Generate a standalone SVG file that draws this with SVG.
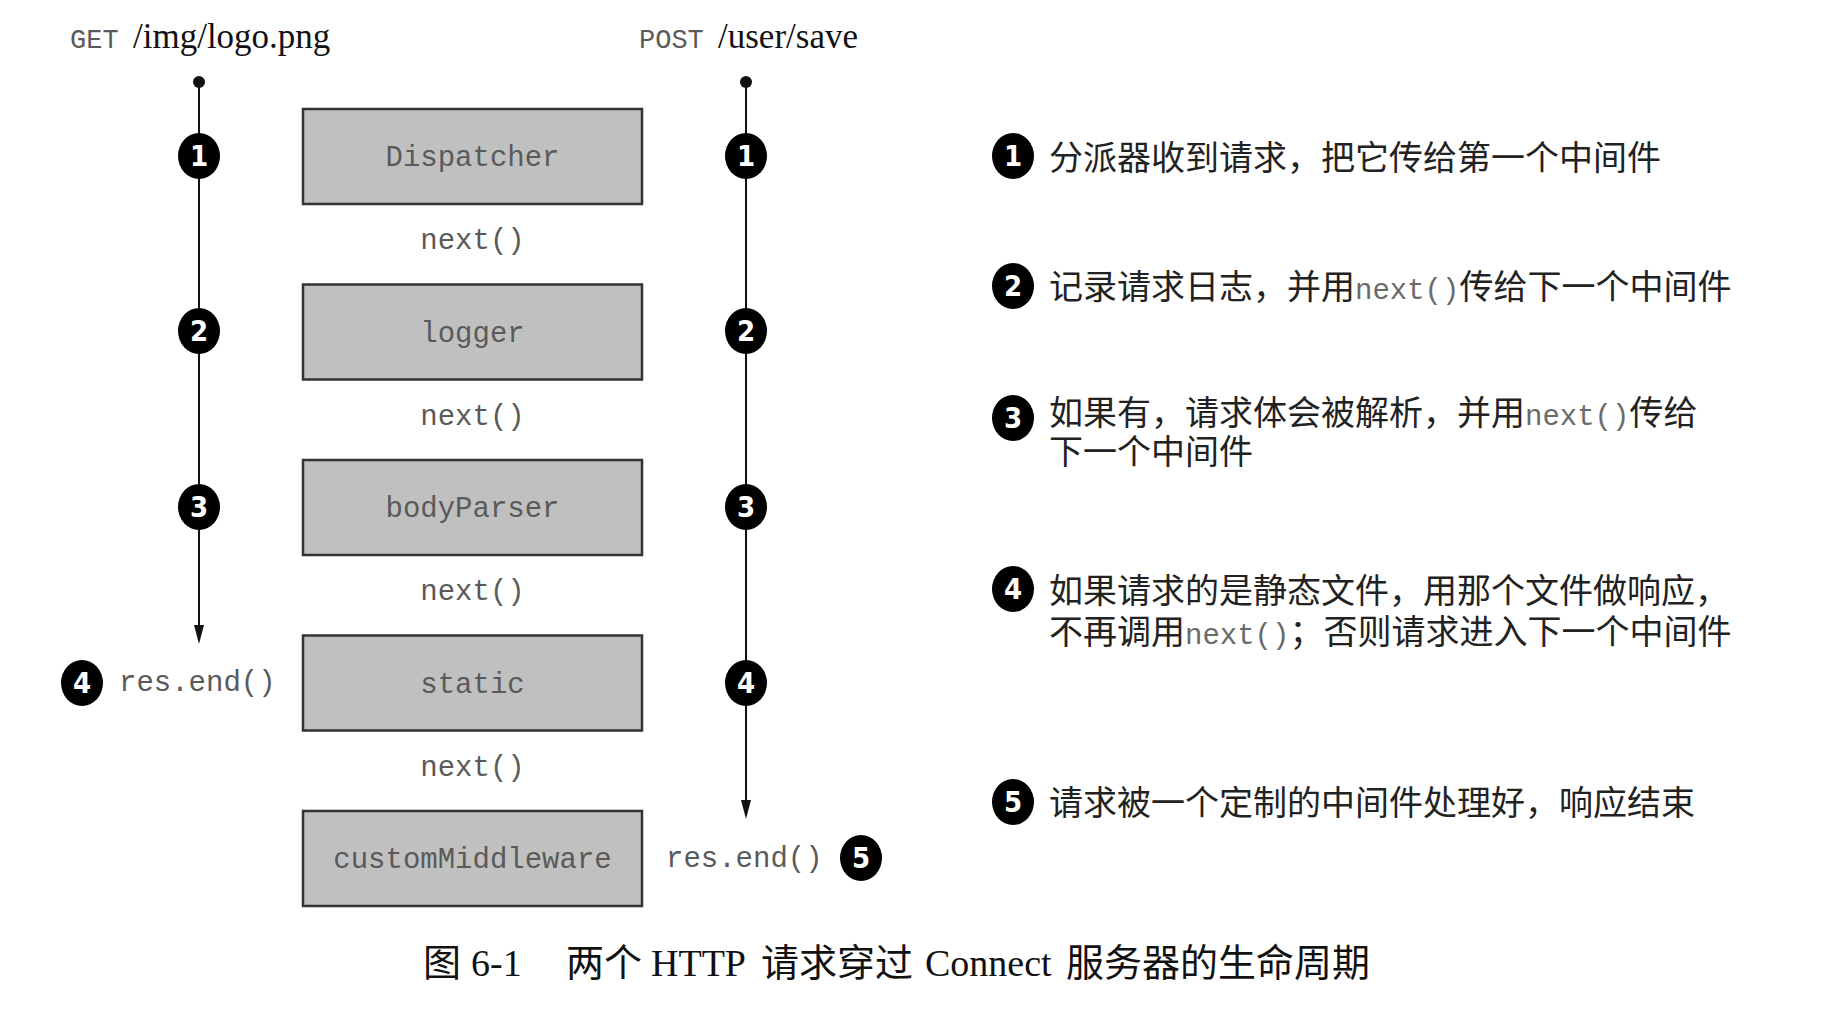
<svg xmlns="http://www.w3.org/2000/svg" width="1836" height="1032" viewBox="0 0 1836 1032">
<style>
  .box{fill:#c0c0c0;stroke:#333;stroke-width:2.5}
  .mono{font-family:"Liberation Mono","DejaVu Sans Mono",monospace;font-size:29px;fill:#5a5a5a}
  .lbl{text-anchor:middle}
  .serif{font-family:"Liberation Serif","Noto Sans CJK SC",serif;font-size:35px;fill:#111}
  .cjk{font-family:"Liberation Sans","Noto Sans CJK SC",sans-serif;font-size:34px;fill:#222}
  .cjk .m{font-family:"Liberation Mono","DejaVu Sans Mono",monospace;font-size:29px;fill:#6a6a6a}
  .badge ellipse{fill:#000}
  .badge text{font-family:"DejaVu Sans Condensed","Liberation Sans",sans-serif;font-weight:bold;font-size:29px;fill:#fff;text-anchor:middle}
  .wire{stroke:#111;stroke-width:2;fill:none}
  .cap{font-family:"Liberation Serif","Noto Sans CJK SC",serif;font-size:38px;fill:#111}
</style>

<!-- headers -->
<g id="hdr-get">
  <text x="70" y="48" class="mono" style="font-size:27px">GET</text>
  <text x="133" y="48" class="serif">/img/logo.png</text>
</g>
<g id="hdr-post">
  <text x="639" y="48" class="mono" style="font-size:27px">POST</text>
  <text x="718" y="48" class="serif">/user/save</text>
</g>

<!-- connectors -->
<g id="connectors">
  <circle cx="199" cy="82" r="6" fill="#111"/>
  <line class="wire" x1="199" y1="82" x2="199" y2="630"/>
  <path d="M194,625 L204,625 L199,644 Z" fill="#111"/>
  <circle cx="746" cy="82" r="6" fill="#111"/>
  <line class="wire" x1="746" y1="82" x2="746" y2="805"/>
  <path d="M741,800 L751,800 L746,819 Z" fill="#111"/>
</g>

<!-- middleware nodes -->
<g id="node-dispatcher"><rect class="box" x="303" y="109" width="339" height="95"/><text class="mono lbl" x="472.5" y="166">Dispatcher</text></g>
<g id="node-logger"><rect class="box" x="303" y="284.5" width="339" height="95"/><text class="mono lbl" x="472.5" y="341.5">logger</text></g>
<g id="node-bodyparser"><rect class="box" x="303" y="460" width="339" height="95"/><text class="mono lbl" x="472.5" y="517">bodyParser</text></g>
<g id="node-static"><rect class="box" x="303" y="635.5" width="339" height="95"/><text class="mono lbl" x="472.5" y="692.5">static</text></g>
<g id="node-custom"><rect class="box" x="303" y="811" width="339" height="95"/><text class="mono lbl" x="472.5" y="868">customMiddleware</text></g>

<!-- next() labels -->
<g id="next-labels" class="mono lbl">
  <text x="472.5" y="249">next()</text>
  <text x="472.5" y="424.5">next()</text>
  <text x="472.5" y="600">next()</text>
  <text x="472.5" y="775.5">next()</text>
</g>

<!-- badges on lines -->
<g id="badges-left" class="badge">
  <g transform="translate(199,156)"><ellipse rx="21" ry="23"/><text y="10">1</text></g>
  <g transform="translate(199,331)"><ellipse rx="21" ry="23"/><text y="10">2</text></g>
  <g transform="translate(199,507)"><ellipse rx="21" ry="23"/><text y="10">3</text></g>
</g>
<g id="badges-right" class="badge">
  <g transform="translate(746,156)"><ellipse rx="21" ry="23"/><text y="10">1</text></g>
  <g transform="translate(746,331)"><ellipse rx="21" ry="23"/><text y="10">2</text></g>
  <g transform="translate(746,507)"><ellipse rx="21" ry="23"/><text y="10">3</text></g>
  <g transform="translate(746,683)"><ellipse rx="21" ry="23"/><text y="10">4</text></g>
</g>

<!-- endings -->
<g id="end-get">
  <g class="badge" transform="translate(82,683)"><ellipse rx="21" ry="23"/><text y="10">4</text></g>
  <text class="mono" x="119" y="691">res.end()</text>
</g>
<g id="end-post">
  <text class="mono" x="666" y="867">res.end()</text>
  <g class="badge" transform="translate(861,858)"><ellipse rx="21" ry="23"/><text y="10">5</text></g>
</g>

<!-- legend -->
<g id="legend-1">
  <g class="badge" transform="translate(1013,156)"><ellipse rx="21" ry="23"/><text y="10">1</text></g>
  <text class="cjk" x="1049" y="170">分派器收到请求，把它传给第一个中间件</text>
</g>
<g id="legend-2">
  <g class="badge" transform="translate(1013,286)"><ellipse rx="21" ry="23"/><text y="10">2</text></g>
  <text class="cjk" x="1049" y="299">记录请求日志，并用<tspan class="m">next()</tspan>传给下一个中间件</text>
</g>
<g id="legend-3">
  <g class="badge" transform="translate(1013,418)"><ellipse rx="21" ry="23"/><text y="10">3</text></g>
  <text class="cjk" x="1049" y="425">如果有，请求体会被解析，并用<tspan class="m">next()</tspan>传给</text>
  <text class="cjk" x="1049" y="464">下一个中间件</text>
</g>
<g id="legend-4">
  <g class="badge" transform="translate(1013,589)"><ellipse rx="21" ry="23"/><text y="10">4</text></g>
  <text class="cjk" x="1049" y="603">如果请求的是静态文件，用那个文件做响应，</text>
  <text class="cjk" x="1049" y="644">不再调用<tspan class="m">next()</tspan>；否则请求进入下一个中间件</text>
</g>
<g id="legend-5">
  <g class="badge" transform="translate(1013,802)"><ellipse rx="21" ry="23"/><text y="10">5</text></g>
  <text class="cjk" x="1049" y="815">请求被一个定制的中间件处理好，响应结束</text>
</g>

<!-- caption -->
<text id="caption" class="cap" y="976"><tspan x="423">图</tspan><tspan x="471">6-1</tspan><tspan x="566">两个</tspan><tspan x="651">HTTP</tspan><tspan x="761">请求穿过</tspan><tspan x="925">Connect</tspan><tspan x="1066">服务器的生命周期</tspan></text>
</svg>
